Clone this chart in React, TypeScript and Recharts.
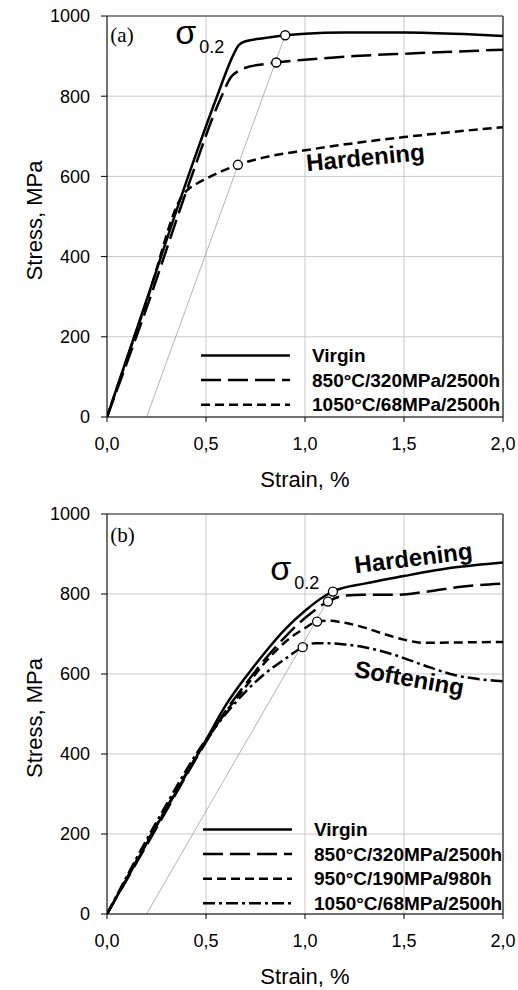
import React from 'react';
import { ComposedChart, Line, Scatter, XAxis, YAxis, CartesianGrid, ReferenceLine, ReferenceDot, Legend } from 'recharts';

type Pt = [number, number];

const strainTicks = [0, 0.5, 1, 1.5, 2];
const stressTicks = [0, 200, 400, 600, 800, 1000];

// panel (a)
const virginA: Pt[] = [[0, 0], [0.2, 292], [0.41, 600], [0.556, 800], [0.64, 905], [0.665, 927], [0.7, 937], [0.78, 944], [0.9, 952], [1.0, 956], [1.2, 959], [1.5, 959], [1.8, 955], [2.0, 950]];
const c850A: Pt[] = [[0, 0], [0.2, 272], [0.42, 590], [0.57, 790], [0.63, 850], [0.66, 862], [0.7, 871], [0.78, 879], [0.855, 884], [1.0, 891], [1.25, 900], [1.5, 906], [1.75, 911], [2.0, 916]];
const c1050A: Pt[] = [[0, 0], [0.2, 288], [0.385, 555], [0.41, 568], [0.45, 581], [0.5, 594], [0.58, 613], [0.661, 629], [0.8, 648], [1.0, 665], [1.25, 683], [1.5, 698], [1.75, 711], [2.0, 723]];
const yieldA: Pt[] = [[0.9, 952], [0.855, 884], [0.661, 629]];
const offsetA: Pt[] = [[0.2, 0], [0.9, 952]];

// panel (b)
const virginB: Pt[] = [[0, 0], [0.25, 220], [0.5, 435], [0.6, 522], [0.7, 592], [0.8, 655], [0.9, 712], [1.0, 758], [1.1, 795], [1.141, 806], [1.3, 826], [1.5, 845], [1.75, 866], [2.0, 879]];
const c850B: Pt[] = [[0, 0], [0.25, 215], [0.5, 430], [0.6, 508], [0.7, 575], [0.8, 638], [0.9, 693], [1.0, 740], [1.116, 781], [1.2, 796], [1.3, 798], [1.45, 798], [1.6, 805], [1.8, 819], [2.0, 826]];
const c950B: Pt[] = [[0, 0], [0.25, 222], [0.5, 432], [0.6, 505], [0.7, 568], [0.8, 630], [0.9, 680], [1.0, 715], [1.061, 731], [1.12, 733], [1.2, 728], [1.3, 716], [1.4, 700], [1.5, 686], [1.6, 678], [1.8, 679], [2.0, 680]];
const c1050B: Pt[] = [[0, 0], [0.25, 230], [0.5, 436], [0.6, 500], [0.7, 556], [0.8, 602], [0.9, 638], [0.988, 667], [1.05, 677], [1.12, 677], [1.2, 674], [1.3, 667], [1.45, 648], [1.6, 622], [1.75, 598], [1.9, 586], [2.0, 582]];
const yieldB: Pt[] = [[1.141, 806], [1.116, 781], [1.061, 731], [0.988, 667]];
const offsetB: Pt[] = [[0.2, 0], [1.141, 806]];

const SANS = '"Liberation Sans", Arial, sans-serif';
const SERIF = '"Liberation Serif", "Times New Roman", serif';

interface Series { name: string; data: Pt[]; dash?: string }

const seriesA: Series[] = [
  { name: 'Virgin', data: virginA },
  { name: '850°C/320MPa/2500h', data: c850A, dash: '20 7' },
  { name: '1050°C/68MPa/2500h', data: c1050A, dash: '9 5' },
];
const seriesB: Series[] = [
  { name: 'Virgin', data: virginB },
  { name: '850°C/320MPa/2500h', data: c850B, dash: '20 7' },
  { name: '950°C/190MPa/980h', data: c950B, dash: '9 5' },
  { name: '1050°C/68MPa/2500h', data: c1050B, dash: '12 4 3 4' },
];

interface Note { x: number; y: number; text: string; kind: 'panel' | 'sigma' | 'bold'; angle?: number }

const notesA: Note[] = [
  { x: 0.017, y: 936, text: '(a)', kind: 'panel' },
  { x: 0.345, y: 931, text: 'σ', kind: 'sigma' },
  { x: 1.305, y: 648, text: 'Hardening', kind: 'bold', angle: -5.5 },
];
const notesB: Note[] = [
  { x: 0.017, y: 930, text: '(b)', kind: 'panel' },
  { x: 0.825, y: 836, text: 'σ', kind: 'sigma' },
  { x: 1.547, y: 891, text: 'Hardening', kind: 'bold', angle: -7 },
  { x: 1.527, y: 590, text: 'Softening', kind: 'bold', angle: 10 },
];

const toRows = (pts: Pt[]) => pts.map(([x, y]) => ({ x, y }));
const fmt = (v: number) => v.toFixed(1).replace('.', ',');

const noteLabel = (n: Note) => (p: any) => {
  const { x, y } = p.viewBox;
  if (n.kind === 'panel') {
    return <text x={x} y={y} fontFamily={SERIF} fontSize={21} fill="#000">{n.text}</text>;
  }
  if (n.kind === 'sigma') {
    return (
      <text x={x} y={y} fontFamily={SANS} fill="#000">
        <tspan fontSize={34}>{n.text}</tspan>
        <tspan fontSize={18} dx={3} dy={9}>0.2</tspan>
      </text>
    );
  }
  return (
    <text x={x} y={y} transform={`rotate(${n.angle} ${x} ${y})`} textAnchor="middle" dominantBaseline="central"
      fontFamily={SANS} fontWeight="bold" fontSize={24} fill="#000">{n.text}</text>
  );
};

const YTitle = (p: any) => {
  const { y, height } = p.viewBox;
  const cx = 42;
  const cy = y + height / 2 + 4;
  return (
    <text x={cx} y={cy} transform={`rotate(-90 ${cx} ${cy})`} textAnchor="middle" fontFamily={SANS} fontSize={22} fill="#000">
      Stress, MPa
    </text>
  );
};

const XTitle = (p: any) => {
  const { x, y, width } = p.viewBox;
  return (
    <text x={x + width / 2} y={y + 70} textAnchor="middle" fontFamily={SANS} fontSize={22} fill="#000">
      Strain, %
    </text>
  );
};

const makeLegend = (series: Series[]) => () => (
  <svg width={310} height={series.length * 25 + 4}>
    {series.map((s, i) => {
      const cy = 12.5 + i * 24.6;
      return (
        <g key={s.name}>
          <line x1={0} x2={89} y1={cy} y2={cy} stroke="#000" strokeWidth={2.5} strokeDasharray={s.dash} />
          <text x={111} y={cy} dominantBaseline="central" fontFamily={SANS} fontWeight="bold" fontSize={19} fill="#000">{s.name}</text>
        </g>
      );
    })}
  </svg>
);

interface PanelProps {
  series: Series[];
  yields: Pt[];
  offset: Pt[];
  notes: Note[];
  top: number;
  marginTop: number;
  axisHeight: number;
  legendPos: { left: number; top: number };
}

const Panel: React.FC<PanelProps> = ({ series, yields, offset, notes, top, marginTop, axisHeight, legendPos }) => (
  <div style={{ position: 'absolute', left: 0, top }}>
    <ComposedChart width={518} height={495} margin={{ top: marginTop, right: 15, bottom: 0, left: 0 }}>
      <CartesianGrid stroke="#c8c8c8" strokeWidth={1} />
      <XAxis type="number" dataKey="x" domain={[0, 2]} ticks={strainTicks} tickFormatter={fmt} allowDataOverflow
        height={axisHeight} tickSize={5} tickMargin={15} stroke="#000"
        tick={{ fontSize: 18, fill: '#000', fontFamily: SANS }} label={XTitle} />
      <YAxis type="number" dataKey="y" domain={[0, 1000]} ticks={stressTicks} allowDataOverflow
        width={107} tickSize={6} tickMargin={11} stroke="#000"
        tick={{ fontSize: 18, fill: '#000', fontFamily: SANS }} label={YTitle} />
      <ReferenceLine y={1000} stroke="#6a6a6a" strokeWidth={1.5} />
      <ReferenceLine x={2} stroke="#222" strokeWidth={1.2} />
      <Line data={toRows(offset)} dataKey="y" type="linear" stroke="#b4b4b4" strokeWidth={1} dot={false}
        legendType="none" isAnimationActive={false} />
      {series.map((s) => (
        <Line key={s.name} name={s.name} data={toRows(s.data)} dataKey="y" type="monotone" stroke="#000"
          strokeWidth={2.5} strokeDasharray={s.dash} dot={false} isAnimationActive={false} />
      ))}
      <Scatter data={toRows(yields)} dataKey="y" legendType="none" isAnimationActive={false}
        shape={(p: any) => <circle cx={p.cx} cy={p.cy} r={4.5} fill="#fff" stroke="#000" strokeWidth={1.3} />} />
      {notes.map((n) => (
        <ReferenceDot key={n.text + n.x} x={n.x} y={n.y} r={0} fill="none" stroke="none" label={noteLabel(n)} />
      ))}
      <Legend layout="vertical" align="center" verticalAlign="middle" content={makeLegend(series)}
        wrapperStyle={{ left: legendPos.left, top: legendPos.top, width: 310 }} />
    </ComposedChart>
  </div>
);

export default function App() {
  return (
    <div style={{ position: 'absolute', left: 0, top: 0, width: 518, height: 990, background: '#fff' }}>
      <Panel series={seriesA} yields={yieldA} offset={offsetA} notes={notesA} top={0} marginTop={16} axisHeight={78}
        legendPos={{ left: 201, top: 343 }} />
      <Panel series={seriesB} yields={yieldB} offset={offsetB} notes={notesB} top={495} marginTop={19} axisHeight={76}
        legendPos={{ left: 203, top: 322 }} />
    </div>
  );
}
